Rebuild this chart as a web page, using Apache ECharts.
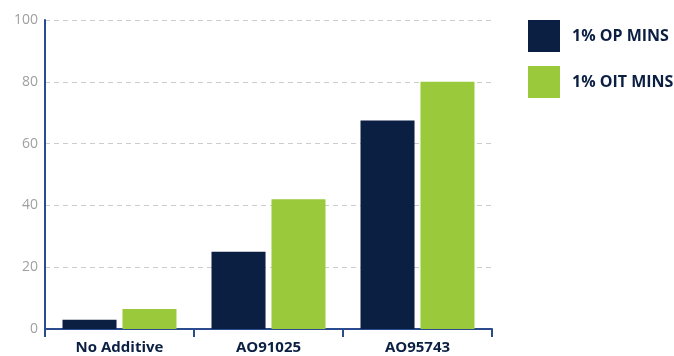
<!DOCTYPE html>
<html>
<head>
<meta charset="utf-8">
<script src="https://cdn.jsdelivr.net/npm/echarts@6/dist/echarts.min.js"></script>
<style>html,body{margin:0;padding:0;background:#fff}#chart{width:674px;height:356px}</style>
</head>
<body>
<div id="chart"></div>
<script>
const categories = ['No Additive', 'AO91025', 'AO95743'];
const opMins = [3, 25, 67.5];
const oitMins = [6.5, 42, 80];
const yTicks = [0, 20, 40, 60, 80, 100];

const navy = '#0b1f42';
const green = '#9aca3c';
const axisBlue = '#2a4b8d';

const chart = echarts.init(document.getElementById('chart'));
chart.setOption({
  animation: false,
  grid: { left: 45, right: 182, top: 20, bottom: 27 },
  legend: {
    orient: 'vertical',
    left: 528, top: 20, padding: 0,
    itemWidth: 32, itemHeight: 32, itemGap: 14,
    icon: 'rect',
    textStyle: { color: navy, fontSize: 16, fontWeight: 'bold', fontFamily: 'Open Sans', padding: [0, 0, 0, 7] }
  },
  xAxis: {
    type: 'category',
    data: categories,
    axisLine: { lineStyle: { color: axisBlue, width: 2 } },
    axisTick: { show: true, length: 8, lineStyle: { color: axisBlue, width: 2 } },
    axisLabel: { color: navy, fontSize: 15, fontWeight: 'bold', fontFamily: 'Open Sans', margin: 11 }
  },
  yAxis: {
    type: 'value',
    min: yTicks[0], max: yTicks[yTicks.length - 1], interval: 20,
    axisLine: { show: true, lineStyle: { color: axisBlue, width: 2 } },
    axisTick: { show: false },
    axisLabel: { color: '#a0a0a0', fontSize: 14, fontFamily: 'Open Sans', margin: 7 },
    splitLine: { lineStyle: { color: '#cccccc', type: [5, 4] } }
  },
  series: [
    { name: '1% OP MINS', type: 'bar', data: opMins, itemStyle: { color: navy }, barGap: '11%', barCategoryGap: '23.5%' },
    { name: '1% OIT MINS', type: 'bar', data: oitMins, itemStyle: { color: green } }
  ]
});
</script>
</body>
</html>
